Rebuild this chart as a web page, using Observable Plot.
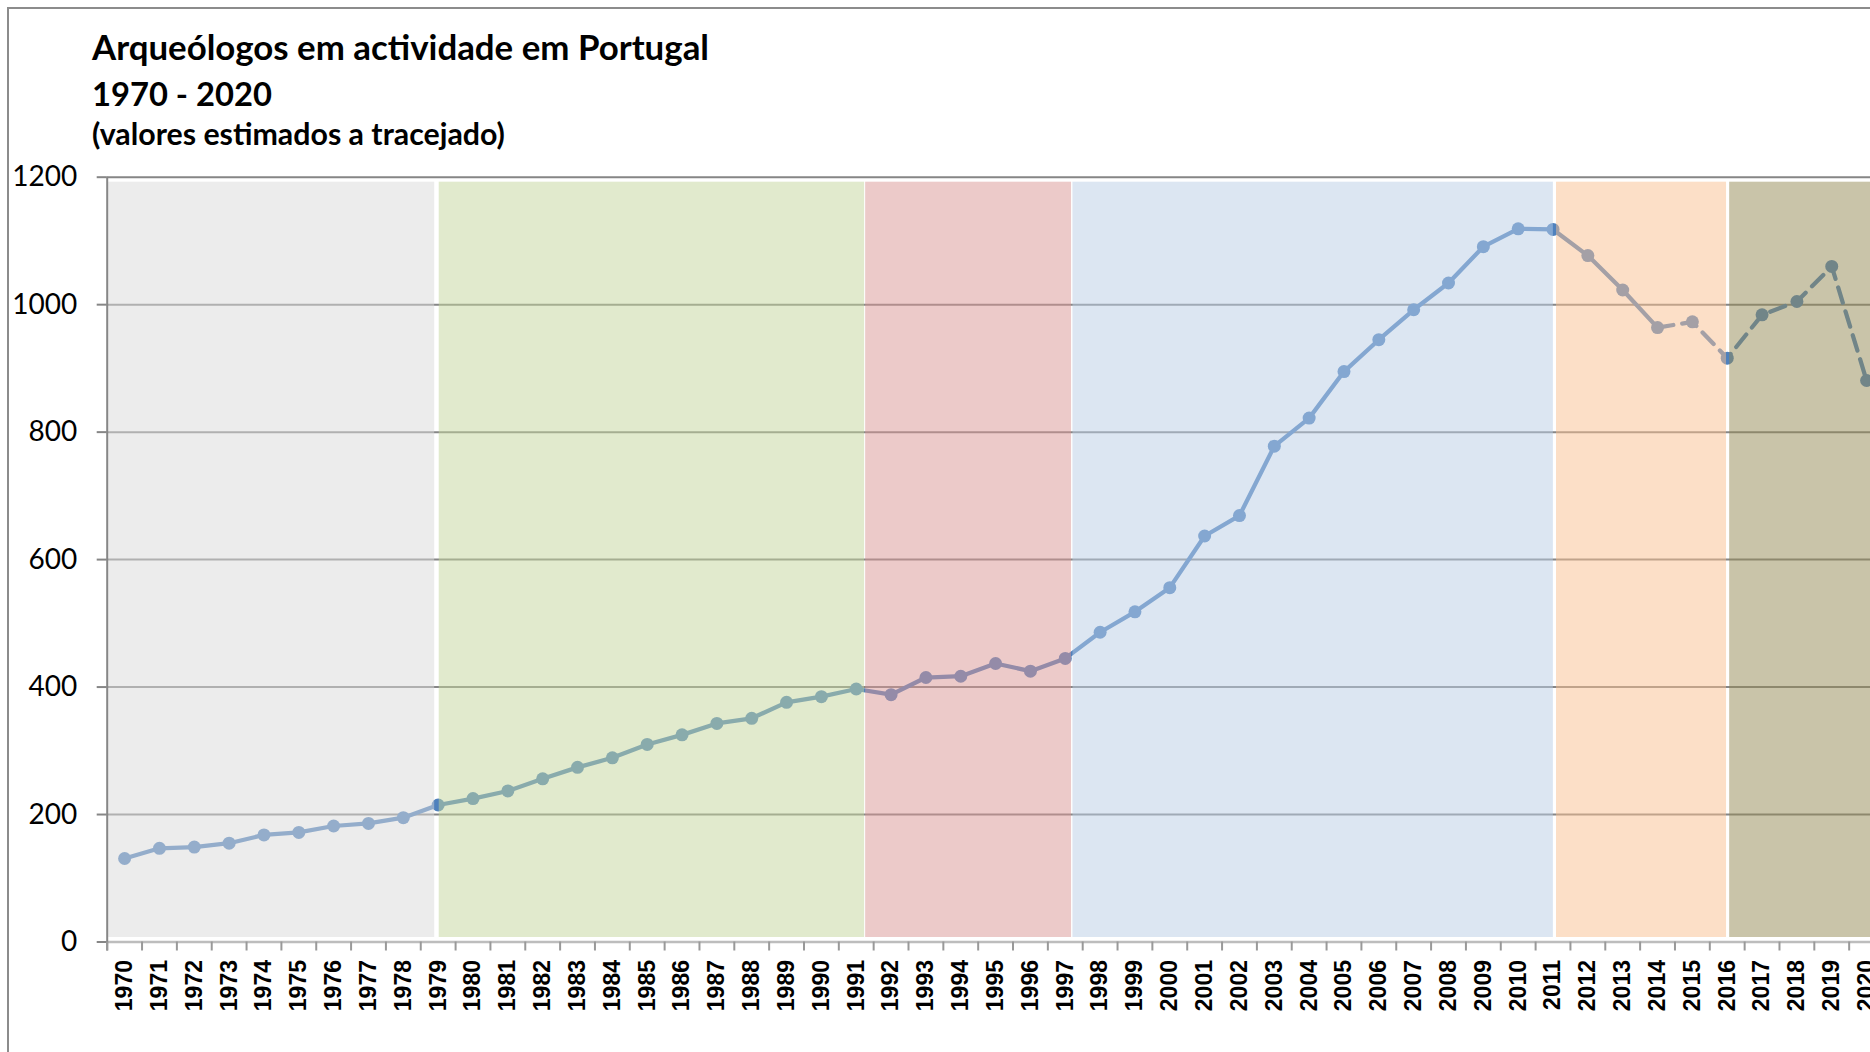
<!DOCTYPE html>
<html>
<head>
<meta charset="utf-8">
<script src="https://cdn.jsdelivr.net/npm/d3@7"></script>
<script src="https://cdn.jsdelivr.net/npm/@observablehq/plot@0.6"></script>
<style>
  html, body { margin: 0; padding: 0; background: #fff; overflow: hidden; width: 1870px; height: 1052px; }
  #wrap { position: relative; width: 1900px; height: 1052px; }
  #border { position: absolute; left: 7px; top: 7px; width: 3000px; height: 3000px;
            border-top: 2px solid #8c8c8c; border-left: 2px solid #8c8c8c; box-sizing: border-box; }
  #title { position: relative; height: 150px; font-family: Lato, "Open Sans", sans-serif; font-weight: 700; color: #000; }
  .t { position: absolute; left: 92px; white-space: nowrap; line-height: 1; }
  #chart { position: relative; }
  #chart svg { overflow: visible; display: block; }
</style>
</head>
<body>
<div id="wrap">
  <div id="border"></div>
  <div id="title"></div>
  <div id="chart"></div>
</div>
<script>
// ---- text ----
const titleLines = ["Arqueólogos em actividade em Portugal", "1970 - 2020", "(valores estimados a tracejado)"];

// ---- data ----
const years = [1970,1971,1972,1973,1974,1975,1976,1977,1978,1979,
               1980,1981,1982,1983,1984,1985,1986,1987,1988,1989,
               1990,1991,1992,1993,1994,1995,1996,1997,1998,1999,
               2000,2001,2002,2003,2004,2005,2006,2007,2008,2009,
               2010,2011,2012,2013,2014,2015,2016,2017,2018,2019,
               2020];
const values = [131,147,149,155,168,172,182,186,195,215,
                225,237,256,274,289,310,325,343,351,376,
                385,397,388,415,417,437,425,445,486,518,
                556,637,669,778,822,895,945,992,1034,1091,
                1119,1118,1077,1023,964,973,916,984,1005,1060,
                881];
const estimatedFrom = 2014;   // dashed from here on

// period background bands (in years)
const bandFrom   = [1969.54, 1979.03, 1991.27, 1997.22, 2011.10, 2016.07];
const bandTo     = [1978.90, 1991.24, 1997.18, 2011.01, 2015.98, 2021.00];
const bandColors = ["#D9D9D9", "#C3D69B", "#D99694", "#B9CDE5", "#FAC090", "#948A54"];

const yTicks = [0, 200, 400, 600, 800, 1000, 1200];

// ---- title ----
const ctx = document.createElement("canvas").getContext("2d");
function fitSize(text, target, weight, family) {
  ctx.font = `${weight} 100px ${family}`;
  return 100 * target / ctx.measureText(text).width;
}
const fam = "Lato";
const fs1 = fitSize(titleLines[0], 617, 700, fam);
const fs2 = fitSize(titleLines[1], 180, 700, fam);
const fs3 = fitSize(titleLines[2], 413, 700, fam);
const sizes = [fs1, fs2, fs3];
const centers = [48, 95, 134];
const tdiv = document.getElementById("title");
titleLines.forEach((s, i) => {
  const d = document.createElement("div");
  d.className = "t";
  d.textContent = s;
  d.style.fontSize = sizes[i] + "px";
  d.style.top = (centers[i] - 0.527 * sizes[i]) + "px";
  tdiv.appendChild(d);
});

// ---- chart ----
const data = years.map((y, i) => ({year: y, value: values[i]}));
const bands = bandFrom.map((f, i) => ({from: f, to: bandTo[i], color: bandColors[i]}));
const boundaries = years.map(y => y - 0.5).concat([years[years.length - 1] + 0.5]);
const xDomain = [boundaries[0], boundaries[boundaries.length - 1]];

const lineColor = "#4F81BD";
const gridColor = "#868686";

const chart = Plot.plot({
  width: 1900,
  height: 902,
  marginLeft: 106.7,
  marginRight: 16.5,
  marginTop: 26.7,
  marginBottom: 110.5,
  x: {domain: xDomain, label: null},
  y: {domain: [0, 1200], label: null},
  style: {background: "transparent", overflow: "visible"},
  marks: [
    Plot.ruleY(yTicks.filter(v => v > 0), {stroke: gridColor, strokeWidth: 2}),
    Plot.line(data.filter(d => d.year <= estimatedFrom), {x: "year", y: "value", stroke: lineColor, strokeWidth: 4.25}),
    Plot.line(data.filter(d => d.year >= estimatedFrom), {x: "year", y: "value", stroke: lineColor, strokeWidth: 4.25, strokeDasharray: "16,9"}),
    Plot.dot(data, {x: "year", y: "value", r: 6.5, fill: lineColor}),
    Plot.rect(bands, {x1: "from", x2: "to", fill: "color", fillOpacity: 0.5, insetTop: 5, insetBottom: 4.5}),
    Plot.ruleY([0], {stroke: "#bdbdbd", strokeWidth: 2.5}),
    Plot.ruleX([xDomain[0]], {stroke: gridColor, strokeWidth: 2, insetBottom: -9}),
    Plot.axisY({ticks: yTicks, tickSize: 10, tickPadding: 20, stroke: gridColor, strokeWidth: 2,
                fill: "#000", fontSize: 28, fontFamily: "Lato", tickFormat: d => String(d), label: null}),
    Plot.axisX({ticks: boundaries, tickSize: 9, stroke: "#999", strokeWidth: 2, tickFormat: () => "", label: null}),
    Plot.axisX({ticks: years, tickSize: 0, tickPadding: 18, tickRotate: -90, fill: "#000",
                fontSize: 23, fontWeight: "bold", fontFamily: "Liberation Sans",
                tickFormat: d => String(d), label: null})
  ]
});
document.getElementById("chart").appendChild(chart);
</script>
</body>
</html>
